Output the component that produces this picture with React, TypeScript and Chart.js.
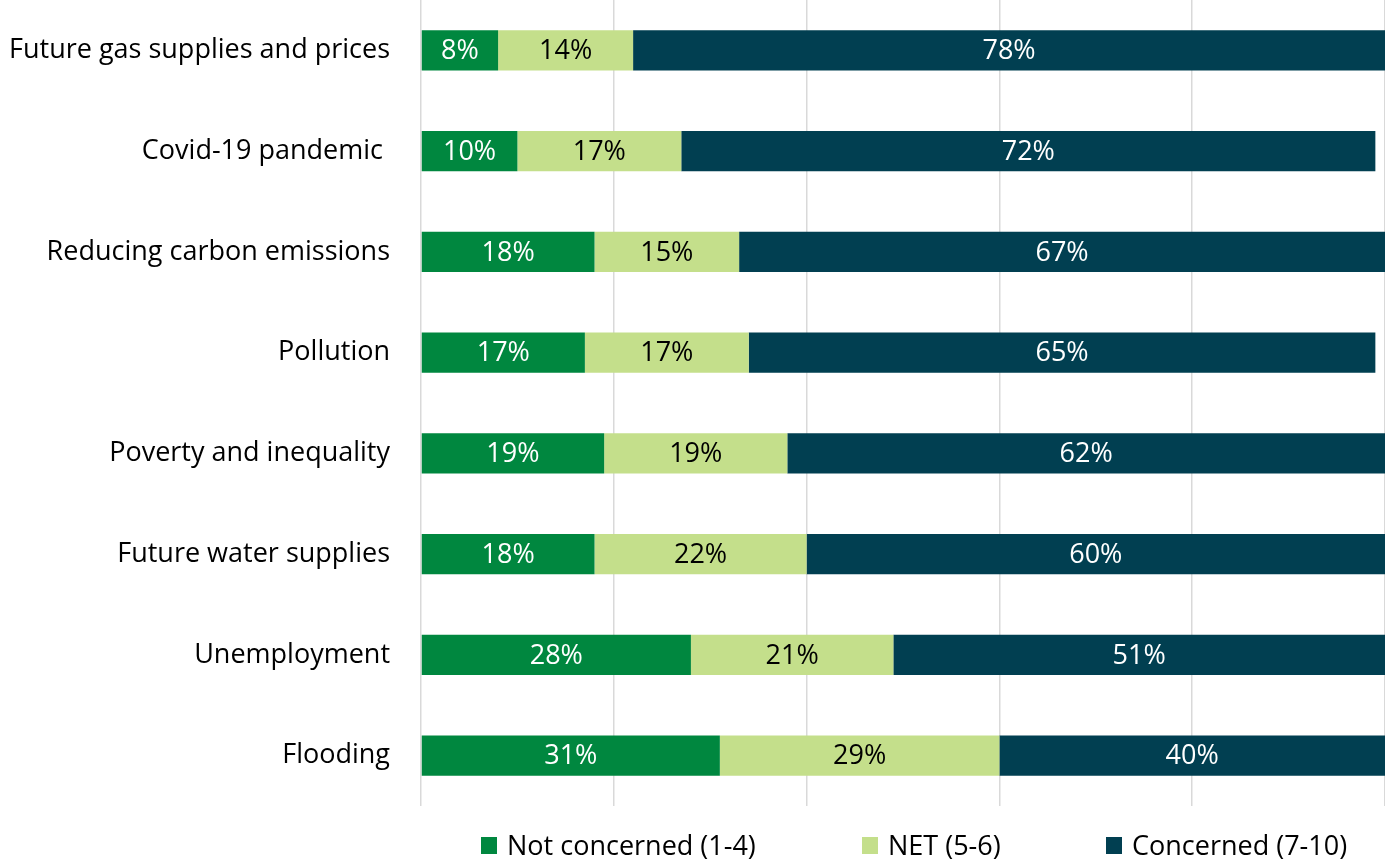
import React, { useEffect, useRef } from "react";
import { Chart, registerables } from "chart.js";

Chart.register(...registerables);

const categories = [
  "Future gas supplies and prices",
  "Covid-19 pandemic ",
  "Reducing carbon emissions",
  "Pollution",
  "Poverty and inequality",
  "Future water supplies",
  "Unemployment",
  "Flooding",
];
const notConcerned = [8, 10, 18, 17, 19, 18, 28, 31];
const netValues = [14, 17, 15, 17, 19, 22, 21, 29];
const concerned = [78, 72, 67, 65, 62, 60, 51, 40];
const seriesNames = ["Not concerned (1-4)", "NET (5-6)", "Concerned (7-10)"];
const seriesColors = ["#00873F", "#C4DF8B", "#013F51"];
const labelColors = ["#FFFFFF", "#000000", "#FFFFFF"];
const xTicks = [0, 20, 40, 60, 80, 100];

const FONT = "'Open Sans', sans-serif";

const valueLabels = {
  id: "valueLabels",
  afterDatasetsDraw(chart: any) {
    const ctx = chart.ctx;
    ctx.save();
    ctx.font = `27px ${FONT}`;
    ctx.textAlign = "center";
    ctx.textBaseline = "middle";
    chart.data.datasets.forEach((ds: any, di: number) => {
      const meta = chart.getDatasetMeta(di);
      meta.data.forEach((bar: any, i: number) => {
        const v = ds.data[i];
        const cx = (bar.x + bar.base) / 2;
        ctx.fillStyle = labelColors[di];
        ctx.fillText(`${v}%`, cx, bar.y + 1);
      });
    });
    ctx.restore();
  },
};

export default function App() {
  const ref = useRef<HTMLCanvasElement>(null);
  useEffect(() => {
    document.body.style.margin = "0";
    const chart = new Chart(ref.current!, {
      type: "bar",
      data: {
        labels: categories,
        datasets: [notConcerned, netValues, concerned].map((d, i) => ({
          label: seriesNames[i],
          data: d,
          backgroundColor: seriesColors[i],
          borderWidth: 0,
          barPercentage: 0.4,
          categoryPercentage: 1,
        })),
      },
      options: {
        indexAxis: "y",
        animation: false,
        responsive: false,
        maintainAspectRatio: false,
        layout: { padding: { top: 0, bottom: 59, right: 0, left: 0 } },
        plugins: { legend: { display: false }, tooltip: { enabled: false } },
        scales: {
          x: {
            stacked: true,
            min: 0,
            max: 100,
            afterBuildTicks: (s: any) => {
              s.ticks = xTicks.map((v) => ({ value: v }));
            },
            afterFit: (s: any) => {
              s.height = 0;
              s.paddingLeft = 0;
              s.paddingRight = 0;
            },
            ticks: { display: false },
            border: { display: false },
            grid: { color: "#D9D9D9", lineWidth: 1.5, drawTicks: false },
          },
          y: {
            stacked: true,
            afterFit: (s: any) => {
              s.width = 421;
              s.paddingTop = 0;
              s.paddingBottom = 0;
            },
            grid: { display: false },
            border: { display: false },
            ticks: {
              color: "#000000",
              padding: 23,
              font: { family: FONT, size: 27 },
            },
          },
        },
      },
      plugins: [valueLabels],
    });
    return () => chart.destroy();
  }, []);

  return (
    <div style={{ position: "relative", width: 1385, height: 865 }}>
      <canvas ref={ref} width={1385} height={865} style={{ display: "block" }} />
      <div
        style={{
          position: "absolute",
          top: 827,
          left: 0,
          width: 1385,
          height: 36,
          fontFamily: FONT,
          fontSize: 27,
          color: "#000",
        }}
      >
        {seriesNames.map((n, i) => (
          <div
            key={n}
            style={{
              position: "absolute",
              left: [481, 862, 1106][i],
              top: 0,
              display: "flex",
              alignItems: "center",
              whiteSpace: "nowrap",
            }}
          >
            <span
              style={{
                display: "inline-block",
                width: 16,
                height: 17,
                background: seriesColors[i],
                marginRight: 10,
              }}
            />
            <span style={{ lineHeight: "36px" }}>{n}</span>
          </div>
        ))}
      </div>
    </div>
  );
}
